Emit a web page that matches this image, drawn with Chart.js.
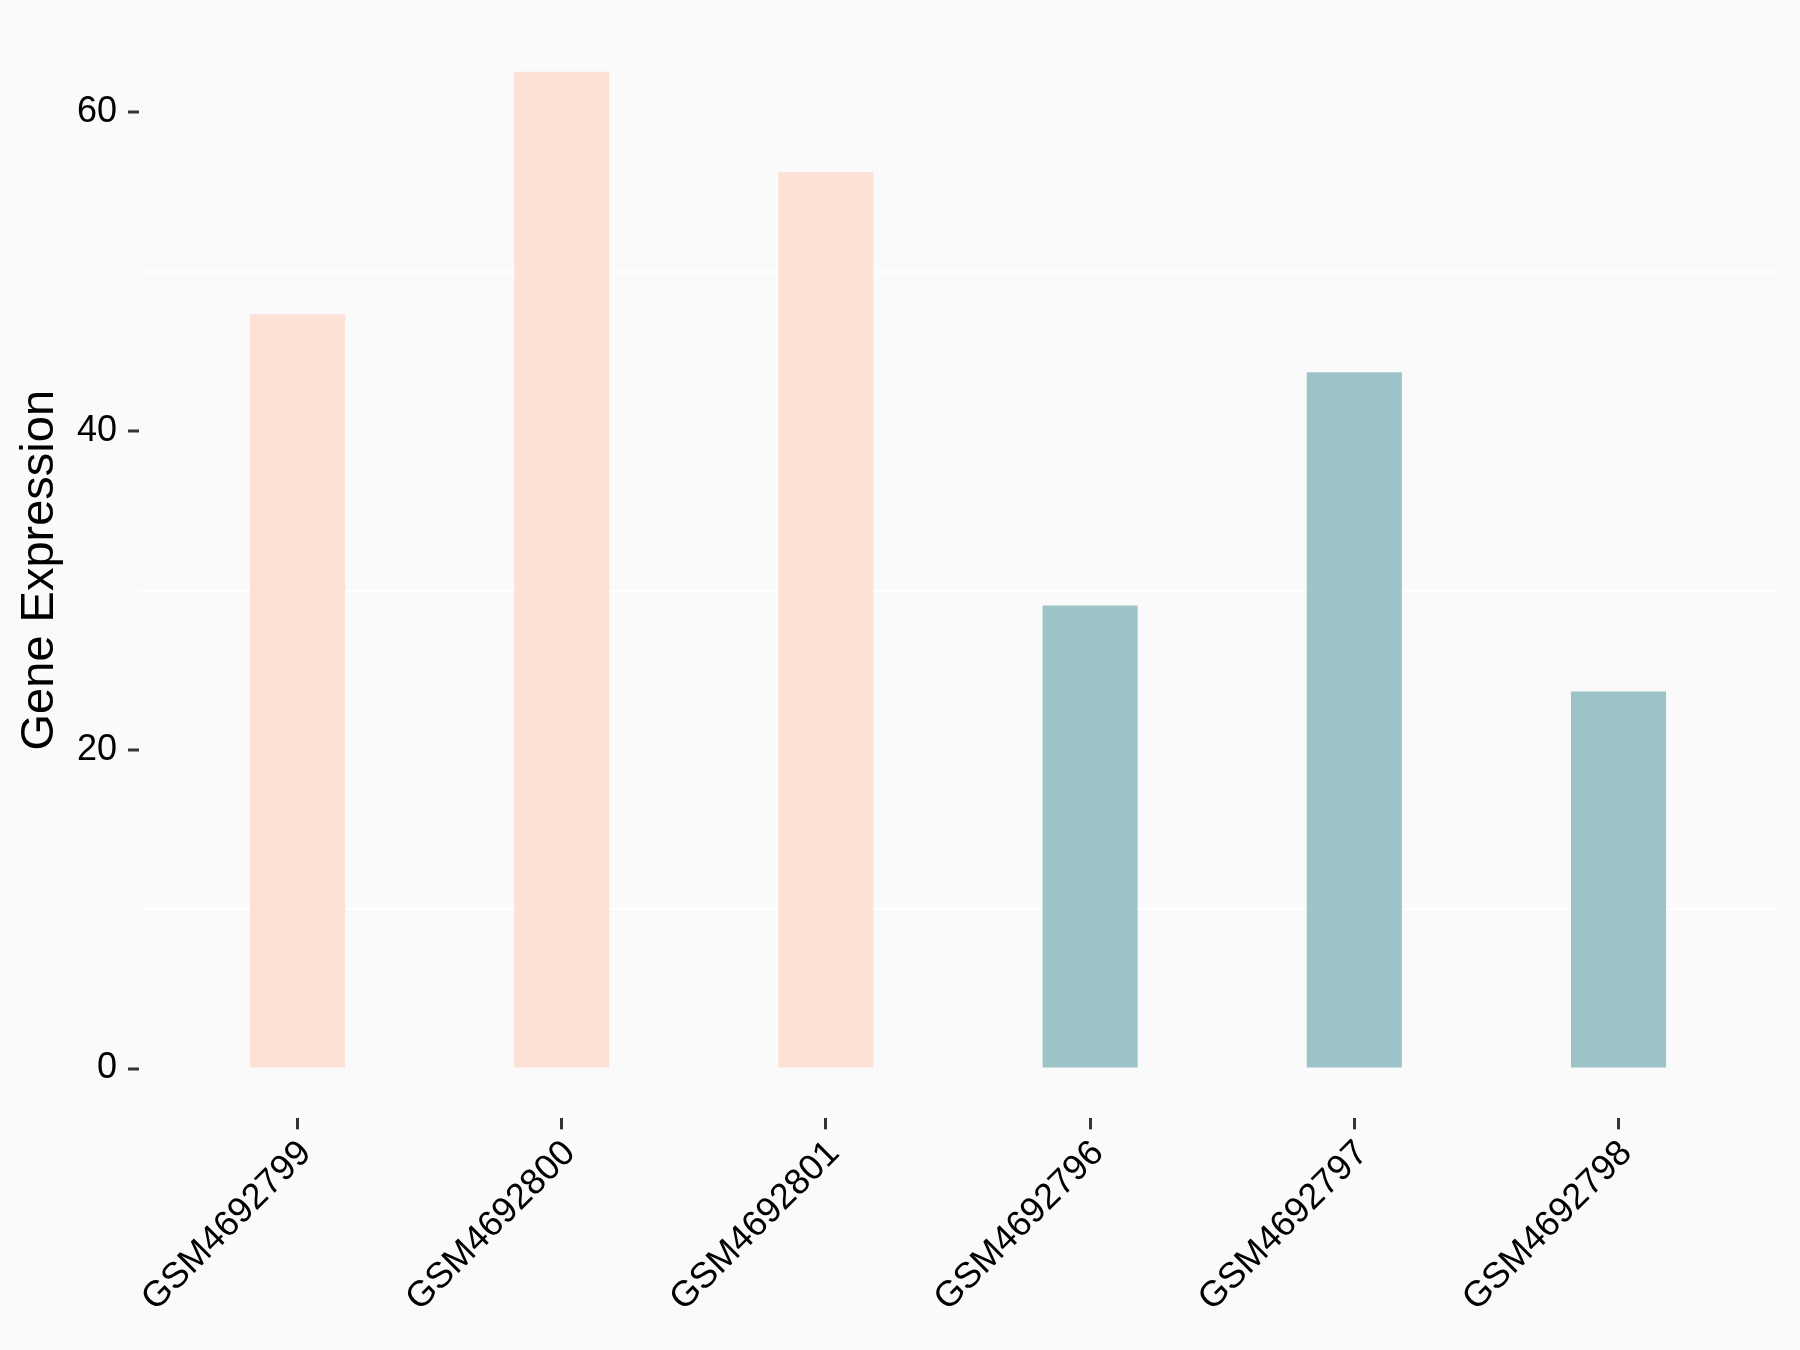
<!DOCTYPE html>
<html>
<head>
<meta charset="utf-8">
<script src="https://cdn.jsdelivr.net/npm/chart.js@4/dist/chart.umd.min.js"></script>
<style>
    html, body { margin: 0; padding: 0; background: #FAFAFA; }
    #wrap { width: 1800px; height: 1350px; position: relative; }
</style>
</head>
<body>
<div id="wrap"><canvas id="expr-chart"></canvas></div>
<script>
// samples in plotting order
const samples = ['GSM4692799', 'GSM4692800', 'GSM4692801', 'GSM4692796', 'GSM4692797', 'GSM4692798'];
const expression = [47.34, 62.55, 56.26, 29.06, 43.70, 23.66];
const barColors = ['#FDE0D6', '#FDE0D6', '#FDE0D6', '#9CC4C8', '#9CC4C8', '#9CC4C8'];
const yTickLabels = [0, 20, 40, 60];

function loadExpressionChart() {
    const ctx = document.getElementById('expr-chart').getContext('2d');
    const yMax = Math.max(...expression);
    const isMajor = (v) => yTickLabels.includes(v);

    return new Chart(ctx, {
        type: 'bar',
        data: {
            datasets: [{
                label: 'Gene Expression',
                data: samples.map((s, i) => ({x: i, y: expression[i]})),
                backgroundColor: barColors,
                borderWidth: 0,
                barPercentage: 0.36,
                categoryPercentage: 1
            }]
        },
        options: {
            responsive: true,
            maintainAspectRatio: false,
            animation: false,
            layout: {padding: {top: 22, right: 23, bottom: 27, left: 0}},
            plugins: {legend: {display: false}, tooltip: {enabled: false}},
            scales: {
                x: {
                    type: 'linear',
                    offset: false,
                    min: -0.6,
                    max: samples.length - 0.4,
                    border: {display: false},
                    grid: {
                        offset: false,
                        drawOnChartArea: false,
                        drawTicks: true,
                        tickLength: 11,
                        tickColor: '#333333',
                        tickWidth: 3
                    },
                    ticks: {
                        stepSize: 1,
                        includeBounds: false,
                        autoSkip: false,
                        minRotation: 45,
                        maxRotation: 45,
                        padding: 3,
                        labelOffset: 8,
                        color: '#000000',
                        font: {family: 'Liberation Sans, Arial, sans-serif', size: 36},
                        callback: (v) => samples[v] ?? ''
                    }
                },
                y: {
                    min: -0.05 * yMax,
                    max: 1.05 * yMax,
                    border: {display: false},
                    grid: {
                        color: (c) => isMajor(c.tick.value) ? 'rgba(0,0,0,0)' : '#FFFFFF',
                        lineWidth: 2,
                        tickLength: 11,
                        tickColor: (c) => isMajor(c.tick.value) ? '#333333' : 'rgba(0,0,0,0)',
                        tickWidth: 3
                    },
                    ticks: {
                        stepSize: 10,
                        includeBounds: false,
                        padding: 11,
                        color: '#000000',
                        font: {family: 'Liberation Sans, Arial, sans-serif', size: 36, lineHeight: 0.6},
                        callback: (v) => isMajor(v) ? String(v) : ''
                    },
                    title: {
                        display: true,
                        text: 'Gene Expression',
                        color: '#000000',
                        font: {family: 'Liberation Sans, Arial, sans-serif', size: 47, lineHeight: 1},
                        padding: {top: 17, bottom: 2}
                    }
                }
            }
        }
    });
}

window.addEventListener('load', () => {
    loadExpressionChart();
});
</script>
</body>
</html>
